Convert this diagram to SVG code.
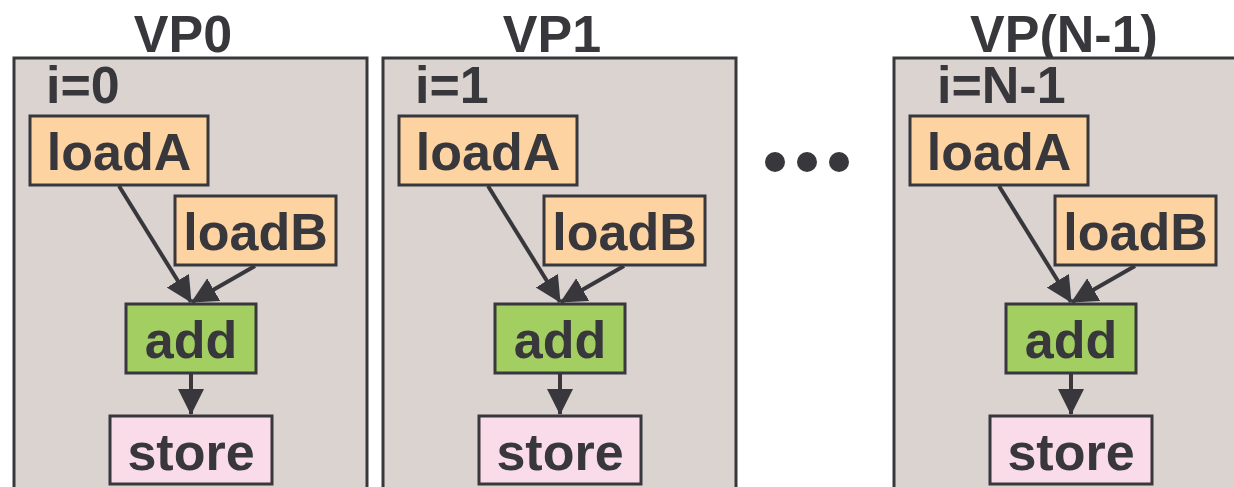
<svg xmlns="http://www.w3.org/2000/svg" width="1234" height="487" viewBox="0 0 1234 487">
<defs>
<style>
text{font-family:"Liberation Sans",Arial,sans-serif;font-weight:bold;font-size:52px;fill:#38373c}
.c{text-anchor:middle}
.panel{fill:#dbd3d0;stroke:#38373c;stroke-width:3}
.ld{fill:#fcd3a1;stroke:#38373c;stroke-width:3}
.add{fill:#a3cf62;stroke:#38373c;stroke-width:3}
.st{fill:#f9dce7;stroke:#38373c;stroke-width:3}
.e{stroke:#38373c;stroke-width:4;fill:none;marker-end:url(#ah)}
</style>
<marker id="ah" markerUnits="userSpaceOnUse" markerWidth="26" markerHeight="28" viewBox="0 0 26 28" refX="25" refY="14" orient="auto">
<path d="M0,1 L26,14 L0,27 Z" fill="#38373c"/>
</marker>
</defs>
<rect width="1234" height="487" fill="#ffffff"/>

<g id="vp0">
<text class="c" x="183" y="52">VP0</text>
<rect class="panel" x="14" y="58" width="353" height="450"/>
<text x="46" y="103">i=0</text>
</g>
<g id="vp1" transform="translate(369,0)">
<text class="c" x="183" y="52">VP1</text>
<rect class="panel" x="14" y="58" width="353" height="450"/>
<text x="46" y="103">i=1</text>
</g>
<g id="vpn" transform="translate(880,0)">
<text class="c" x="184" y="52">VP(N-1)</text>
<rect class="panel" x="14" y="58" width="353" height="450"/>
<text x="57" y="103">i=N-1</text>
</g>

<g id="p0-loadA"><rect class="ld" x="30" y="116" width="178" height="69"/><text class="c" x="119" y="170">loadA</text></g>
<g id="p0-loadB"><rect class="ld" x="175" y="196" width="161" height="69"/><text class="c" x="255.5" y="250">loadB</text></g>
<g id="p0-add"><rect class="add" x="126" y="304" width="130" height="69"/><text class="c" x="191" y="358">add</text></g>
<g id="p0-store"><rect class="st" x="110" y="416" width="162" height="68"/><text class="c" x="191" y="470">store</text></g>

<g id="p1-loadA" transform="translate(369,0)"><rect class="ld" x="30" y="116" width="178" height="69"/><text class="c" x="119" y="170">loadA</text></g>
<g id="p1-loadB" transform="translate(369,0)"><rect class="ld" x="175" y="196" width="161" height="69"/><text class="c" x="255.5" y="250">loadB</text></g>
<g id="p1-add" transform="translate(369,0)"><rect class="add" x="126" y="304" width="130" height="69"/><text class="c" x="191" y="358">add</text></g>
<g id="p1-store" transform="translate(369,0)"><rect class="st" x="110" y="416" width="162" height="68"/><text class="c" x="191" y="470">store</text></g>

<g id="pn-loadA" transform="translate(880,0)"><rect class="ld" x="30" y="116" width="178" height="69"/><text class="c" x="119" y="170">loadA</text></g>
<g id="pn-loadB" transform="translate(880,0)"><rect class="ld" x="175" y="196" width="161" height="69"/><text class="c" x="255.5" y="250">loadB</text></g>
<g id="pn-add" transform="translate(880,0)"><rect class="add" x="126" y="304" width="130" height="69"/><text class="c" x="191" y="358">add</text></g>
<g id="pn-store" transform="translate(880,0)"><rect class="st" x="110" y="416" width="162" height="68"/><text class="c" x="191" y="470">store</text></g>

<g id="dots" fill="#38373c">
<circle cx="775" cy="162" r="10"/><circle cx="807" cy="162" r="10"/><circle cx="839" cy="162" r="10"/>
</g>

<g id="connectors">
<g>
<path class="e" d="M119,186 L191,302"/>
<path class="e" d="M255,266 L192,302"/>
<path class="e" d="M191,374 L191,414"/>
</g>
<g transform="translate(369,0)">
<path class="e" d="M119,186 L191,302"/>
<path class="e" d="M255,266 L192,302"/>
<path class="e" d="M191,374 L191,414"/>
</g>
<g transform="translate(880,0)">
<path class="e" d="M119,186 L191,302"/>
<path class="e" d="M255,266 L192,302"/>
<path class="e" d="M191,374 L191,414"/>
</g>
</g>
</svg>
